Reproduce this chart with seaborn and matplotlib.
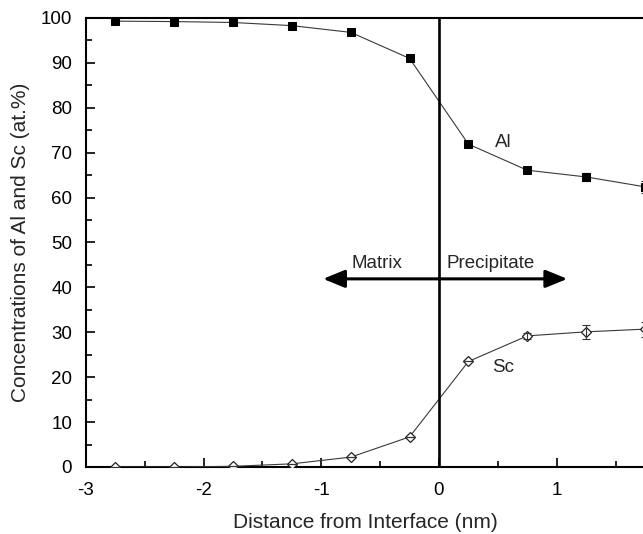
import numpy as np
import pandas as pd
import matplotlib
matplotlib.use("Agg")
import matplotlib.pyplot as plt
import seaborn as sns

# Data
distance = [-2.75, -2.25, -1.75, -1.25, -0.75, -0.25, 0.25, 0.75, 1.25, 1.75]
al_conc = [99.3, 99.2, 99.0, 98.3, 96.8, 91.0, 71.9, 66.1, 64.6, 62.4]
al_err = [0.0, 0.0, 0.0, 0.0, 0.0, 0.0, 0.0, 0.0, 0.8, 1.4]
sc_conc = [0.0, 0.0, 0.15, 0.7, 2.2, 6.7, 23.5, 29.2, 30.1, 30.7]
sc_err = [0.0, 0.0, 0.0, 0.0, 0.0, 0.0, 0.0, 0.6, 1.5, 1.7]

sns.set_theme(style="ticks")
plt.rcParams['font.family'] = ['Liberation Sans', 'DejaVu Sans']
plt.rcParams['axes.unicode_minus'] = False

df = pd.DataFrame({"x": distance * 2,
                   "y": al_conc + sc_conc,
                   "el": ["Al"] * len(distance) + ["Sc"] * len(distance)})

fig = plt.figure(figsize=(6.43, 5.34), dpi=100)
ax = fig.add_axes([0.1337, 0.1255, 0.8693, 0.8408])

ax.errorbar(distance, al_conc, yerr=al_err, fmt="none", ecolor="#333333",
            elinewidth=0.8, capsize=3.0, capthick=0.8, zorder=1)

sns.lineplot(data=df[df.el == "Al"], x="x", y="y", ax=ax, color="#3a3a3a",
             linewidth=0.8, marker="s", markersize=6.2, markerfacecolor="black",
             markeredgecolor="black", zorder=3)
sns.lineplot(data=df[df.el == "Sc"], x="x", y="y", ax=ax, color="#3a3a3a",
             linewidth=0.8, marker="D", markersize=5.5, markerfacecolor="white",
             markeredgecolor="#222222", markeredgewidth=0.9, zorder=3)
ax.errorbar(distance, sc_conc, yerr=sc_err, fmt="none", ecolor="#333333",
            elinewidth=0.8, capsize=3.0, capthick=0.8, zorder=4)

ax.axvline(0, color="black", linewidth=1.9, zorder=5)

arrow_kw = dict(arrowstyle="-|>,head_length=1.1,head_width=0.45",
                color="black", lw=2.2, shrinkA=0, shrinkB=0)
ax.annotate("", xy=(-0.985, 41.9), xytext=(0, 41.9), arrowprops=arrow_kw)
ax.annotate("", xy=(1.09, 41.9), xytext=(0, 41.9), arrowprops=arrow_kw)
ax.text(-0.53, 45.4, "Matrix", ha="center", va="center", fontsize=13.5)
ax.text(0.44, 45.4, "Precipitate", ha="center", va="center", fontsize=13.5)
ax.text(0.545, 72.3, "Al", ha="center", va="center", fontsize=13.5)
ax.text(0.545, 22.2, "Sc", ha="center", va="center", fontsize=13.5)

ax.set_xlim(-3, 1.75)
ax.set_ylim(0, 100)
ax.set_xticks([-3, -2, -1, 0, 1])
ax.set_xticks(np.arange(-2.5, 1.75, 1.0), minor=True)
ax.set_yticks(np.arange(0, 101, 10))
ax.set_yticks(np.arange(5, 100, 10), minor=True)
ax.tick_params(which="both", direction="in", width=1.2, labelsize=13.5,
               colors="black")
ax.tick_params(axis="y", pad=10)
ax.tick_params(axis="x", pad=11)
ax.tick_params(which="major", length=6.5)
ax.tick_params(which="minor", length=4)
ax.set_xlabel("Distance from Interface (nm)", fontsize=15, labelpad=10)
ax.set_ylabel("Concentrations of Al and Sc (at.%)", fontsize=15, labelpad=8)
for s in ax.spines.values():
    s.set_linewidth(1.5)
    s.set_color("black")

fig.savefig("out.png", dpi=100)
